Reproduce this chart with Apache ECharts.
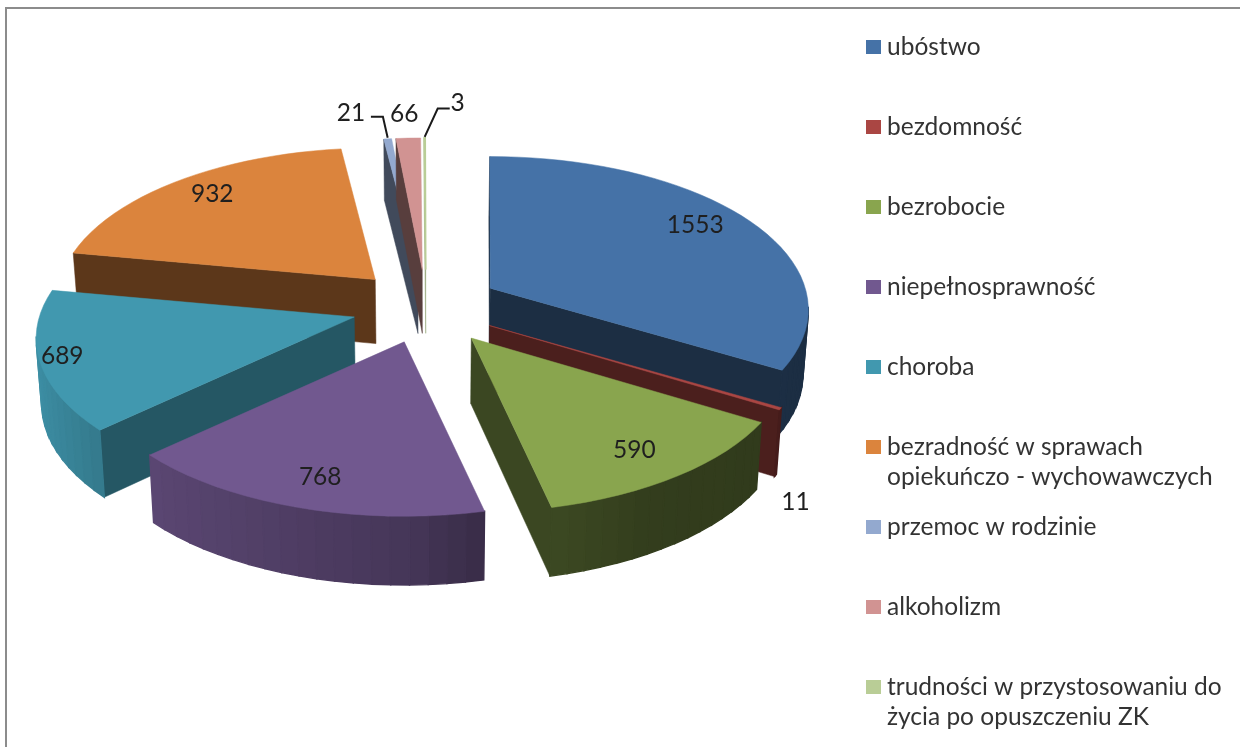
<!DOCTYPE html>
<html><head><meta charset="utf-8">
<style>html,body{margin:0;padding:0;background:#fff}#c{width:1240px;height:747px}</style>
<script src="https://cdn.jsdelivr.net/npm/echarts@6/dist/echarts.min.js"></script>
</head><body><div id="c"></div>
<script>
// ---- data ----
const categories = ['ubóstwo','bezdomność','bezrobocie','niepełnosprawność','choroba',
  'bezradność w sprawach\nopiekuńczo - wychowawczych','przemoc w rodzinie','alkoholizm',
  'trudności w przystosowaniu do\nżycia po opuszczeniu ZK'];
const values = [1553,11,590,768,689,932,21,66,3];
// ---- styles / layout ----
const colors = ['#4572a7','#aa4643','#89a54e','#71588f','#4198af','#db843d','#93a9cf','#d19392','#b9cd96'];
const radialShade = [0.40,0.44,0.43,0.55,0.57,0.42,0.44,0.42,0.8];
const arcMul = [1,1,0.88,1,1,1,1,1,1];
const explodeScale = [1,1,1.05,1,1.01,1,1,1,1];
const drawRank = [6,7,8,5,4,3,1,2,0];
const labelOffset = [[205,-63],[306,177],[163,112],[-84,135],[-292,39],[-163,-85],[-67,-157],[-18,-155],[32,-166]];
const leader = {6:[[20,4],[32,4]],8:[[-8,5],[-20,5]]};
const LEG_TOP = [47,127,207,287,367,447,527,607,687];
const ROT=-0.1,CX=426,CY=306.5,EX=74,EY=37,RX=315,RY=150,K=0.14,FONT='Lato, sans-serif',FS=24.5;

const total = values.reduce((a,b)=>a+b,0);
const startDeg = []; { let c=0; values.forEach(v=>{startDeg.push(c/total*360+ROT); c+=v;}); }

const rad = d=>d*Math.PI/180;
function mix(hex,f){const n=parseInt(hex.slice(1),16);
  return 'rgb('+[(n>>16)&255,(n>>8)&255,n&255].map(c=>Math.round(c*f)).join(',')+')';}
function arcShade(u){
  const t=[[-1,.95],[-.73,.8],[0,.62],[.22,.5],[.5,.42],[1,.4]];
  for(let i=1;i<t.length;i++) if(u<=t[i][0]){const a=t[i-1],b=t[i];return a[1]+(b[1]-a[1])*(u-a[0])/(b[0]-a[0]);}
  return .4;
}
function faces(A,B,inner){ // true when the wall hanging under edge A-B is seen
  const dx=B[0]-A[0],dy=B[1]-A[1];
  const c1=dx*(inner[1]-A[1])-dy*(inner[0]-A[0]);
  return c1*dx<0;
}
function slice(i,value){
  const a0=startDeg[i], a1=a0+value/total*360, mid=(a0+a1)/2;
  const es=explodeScale[i];
  const ax=CX+EX*es*Math.sin(rad(mid)), ay=CY-EY*es*Math.cos(rad(mid));
  const proj=(deg,r)=>{const u=Math.sin(rad(deg))*r,v=-Math.cos(rad(deg))*r,s=1/(1-K*v);
    return [ax+RX*u*s, ay+RY*v*s];};
  const down=p=>[p[0]+(CX-p[0])*0.014, p[1]+64+(p[1]-278)*0.02];
  const n=Math.max(2,Math.ceil((a1-a0)/3));
  const rim=[]; for(let k=0;k<=n;k++) rim.push(proj(a0+(a1-a0)*k/n,1));
  const A=[ax,ay], children=[];
  const quad=(p,q,fill,w)=>({type:'polygon',shape:{points:[p,q,down(q),down(p)]},
    style:{fill,stroke:fill,lineWidth:w},silent:true});
  const oS=rim[rim.length-1], oE=rim[0];
  if(faces(A,rim[0],oS)) children.push(quad(A,rim[0],mix(colors[i],radialShade[i]),0.5));
  if(faces(A,oS,oE)) children.push(quad(A,oS,mix(colors[i],radialShade[i]),0.5));
  const order=[]; for(let k=0;k<n;k++) order.push(k);
  order.sort((p,q)=>rim[p][1]-rim[q][1]);
  order.forEach(k=>{
    if(!faces(rim[k],rim[k+1],A)) return;
    const m=a0+(a1-a0)*(k+.5)/n;
    children.push(quad(rim[k],rim[k+1],mix(colors[i],arcShade(Math.sin(rad(m)))*arcMul[i]),1.4));
  });
  children.push({type:'polygon',shape:{points:[A].concat(rim)},
    style:{fill:colors[i],stroke:colors[i],lineWidth:i===8?1.6:0.5},silent:true});
  const lx=ax+labelOffset[i][0], ly=ay+labelOffset[i][1];
  if(leader[i]){
    const L=leader[i], end=proj(mid,1);
    children.push({type:'polyline',shape:{points:[[lx+L[0][0],ly+L[0][1]],[lx+L[1][0],ly+L[1][1]],[end[0],end[1]-1]]},
      style:{stroke:'#1a1a1a',lineWidth:2,fill:null},silent:true});
  }
  children.push({type:'text',z2:50,silent:true,style:{text:String(value),x:lx,y:ly,
    font:FS+'px '+FONT,fill:'#1f1f1f',textAlign:'center',textVerticalAlign:'middle'}});
  return {type:'group',children};
}

const chart=echarts.init(document.getElementById('c'),null,{renderer:'canvas'});
const series=categories.map((name,i)=>({
  type:'custom',name,coordinateSystem:'none',z:2+drawRank[i],animation:false,silent:true,
  itemStyle:{color:colors[i]},
  data:[[values[i]]],
  renderItem:(p,api)=>slice(i,api.value(0))
}));
const legend=categories.map((name,i)=>({
  data:[name],left:866,top:LEG_TOP[i]-14,orient:'vertical',padding:0,selectedMode:false,
  icon:'rect',itemWidth:15,itemHeight:14,itemGap:0,
  formatter:n=>n.split('\n')[0],
  textStyle:{fontFamily:FONT,fontSize:FS,color:'#333',padding:[0,0,0,1],lineHeight:28}
}));
const graphic=[{type:'polyline',silent:true,shape:{points:[[6,747],[6,8],[1240,8]]},
  style:{stroke:'#8c8c8c',lineWidth:2,fill:null}}];
categories.forEach((name,i)=>{const parts=name.split('\n');
  if(parts[1]) graphic.push({type:'text',silent:true,left:887,top:LEG_TOP[i]+18,
    style:{text:parts[1],font:FS+'px '+FONT,fill:'#333'}});});
chart.setOption({animation:false,color:colors,legend,series,graphic});
</script></body></html>
